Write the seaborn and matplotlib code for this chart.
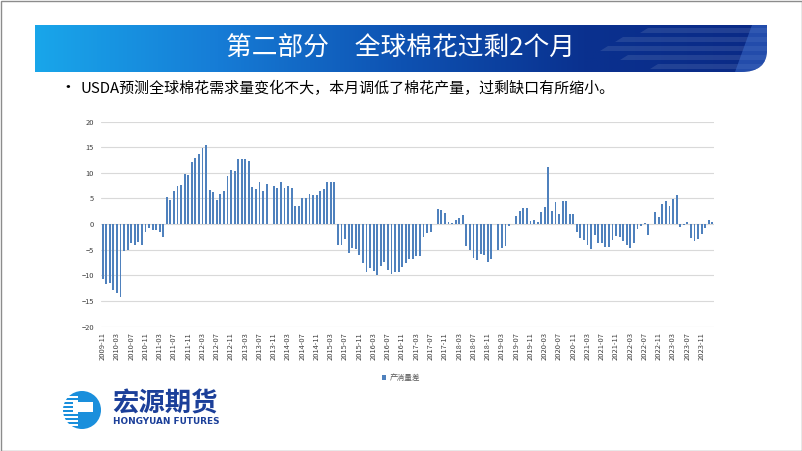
import numpy as np
import pandas as pd
import matplotlib
matplotlib.use("Agg")
import matplotlib.pyplot as plt
from matplotlib.path import Path
from matplotlib.patches import PathPatch, Rectangle, Circle, Polygon
from matplotlib.colors import LinearSegmentedColormap
import seaborn as sns

# monthly world cotton production minus consumption (USDA), 2009-11 .. 2024-02
months = pd.date_range("2009-11-01", periods=172, freq="MS").strftime("%Y-%m").tolist()
gap = [
    -10.8, -11.7, -11.6, -12.8, -13.4, -14.3, -5.2, -5.1, -3.7, -4.0, -3.6, -4.0,
    -1.6, -0.8, -1.1, -1.2, -1.6, -2.5, 5.2, 4.7, 6.4, 7.5, 7.7, 9.8,
    9.5, 12.1, 12.8, 13.7, 14.9, 15.5, 6.7, 6.3, 4.7, 5.9, 6.5, 9.4,
    10.5, 10.3, 12.7, 12.7, 12.7, 12.2, 7.3, 6.9, 8.2, 6.5, 7.9, 0.0,
    7.5, 7.0, 8.2, 7.1, 7.4, 7.1, 3.6, 3.6, 5.0, 5.0, 5.8, 5.6,
    5.7, 6.4, 6.9, 8.2, 8.2, 8.2, -4.0, -4.0, -2.9, -5.6, -4.7, -4.9,
    -6.0, -7.7, -9.4, -8.6, -9.2, -9.9, -8.2, -7.5, -8.9, -9.7, -9.4, -9.3,
    -8.4, -7.7, -6.9, -6.8, -6.2, -6.3, -2.5, -1.8, -1.6, 0.0, 2.9, 2.8,
    2.2, 0.3, 0.2, 0.8, 1.1, 1.8, -4.2, -5.0, -6.7, -7.0, -5.9, -6.1,
    -7.4, -6.9, 0.0, -5.1, -4.7, -4.2, -0.4, 0.0, 1.5, 2.5, 3.1, 3.1,
    0.5, 0.8, 0.3, 2.3, 3.3, 11.1, 2.5, 4.3, 1.9, 4.5, 4.5, 2.0,
    2.0, -1.6, -2.7, -3.1, -4.0, -4.8, -2.1, -3.7, -3.7, -4.5, -4.5, -3.1,
    -2.4, -2.6, -3.4, -4.1, -4.7, -3.8, -1.0, -0.3, 0.1, -2.1, 0.05, 2.3,
    1.4, 4.0, 4.4, 3.6, 4.9, 5.6, -0.5, -0.1, 0.3, -2.7, -3.4, -3.0,
    -1.9, -0.8, 0.7, 0.3,
]
series_name = "产消量差"
title = "第二部分　全球棉花过剩2个月"
bullet = "USDA预测全球棉花需求量变化不大，本月调低了棉花产量，过剩缺口有所缩小。"

df = pd.DataFrame({"month": months, "gap": gap})

sns.set_style("white")
plt.rcParams["font.family"] = ["Noto Sans CJK SC", "DejaVu Sans"]

W, H = 802, 451
fig = plt.figure(figsize=(W / 100, H / 100), dpi=100)
fig.patch.set_facecolor("white")

# background / decoration layer in pixel coordinates
bg = fig.add_axes([0, 0, 1, 1], zorder=0)
bg.set_xlim(0, W)
bg.set_ylim(H, 0)
bg.axis("off")

# title banner with gradient and rounded lower-right corner
x0, x1, y0, y1 = 35, 767, 25, 72
grad = LinearSegmentedColormap.from_list(
    "banner", ["#19a6ea", "#167cd6", "#0e52b2", "#0a318f", "#0a2a86"])
img = bg.imshow(np.linspace(0, 1, 256)[None, :], cmap=grad, aspect="auto",
                extent=[x0, x1, y1, y0], zorder=1)
verts = [(x0, y0), (x1, y0), (x1, y1 - 22), (x1, y1), (x1 - 26, y1), (x0, y1), (x0, y0)]
codes = [Path.MOVETO, Path.LINETO, Path.LINETO, Path.CURVE3, Path.CURVE3, Path.LINETO,
         Path.CLOSEPOLY]
clip = PathPatch(Path(verts, codes), transform=bg.transData, facecolor="none",
                 edgecolor="none")
bg.add_patch(clip)
img.set_clip_path(clip)
for ys, ye, xs in [(28, 33, 640), (37, 42, 615), (46, 51, 600), (55, 60, 620), (64, 69, 650)]:
    p = Polygon([(xs, ye), (xs + 8, ys), (x1, ys), (x1, ye)], closed=True,
                facecolor="white", alpha=0.10, edgecolor="none", zorder=2)
    bg.add_patch(p)
    p.set_clip_path(clip)
shine = Polygon([(735, y1), (752, y0), (x1, y0), (x1, y1)], closed=True,
                facecolor="#3d6fd0", alpha=0.5, edgecolor="none", zorder=2)
bg.add_patch(shine)
shine.set_clip_path(clip)
bg.text(400, 49, title, color="white", fontsize=18.5, ha="center", va="center", zorder=3)

bg.text(68, 88, "•", fontsize=12, ha="center", va="center", color="black")
bg.text(80, 88, bullet, fontsize=10.8, ha="left", va="center", color="black")

# logo
bg.add_patch(Circle((82, 410), 19, facecolor="#1a8fdc", edgecolor="none", zorder=2))
for yy in range(396, 426, 4):
    bg.add_patch(Rectangle((60, yy), 18, 1.6, facecolor="white", edgecolor="none", zorder=3))
bg.add_patch(Rectangle((73, 402), 20, 10, facecolor="white", edgecolor="none", zorder=3))
bg.text(112, 404, "宏源期货", fontsize=19, fontweight="bold", color="#1b3f99",
        ha="left", va="center")
bg.text(113, 421.5, "HONGYUAN FUTURES", fontsize=6.4, fontweight="bold", color="#1b3f99",
        ha="left", va="center", family=["DejaVu Sans"])

# slide border
bg.add_patch(Rectangle((0.5, 0.5), W - 1, H - 1, facecolor="none", edgecolor="#8c8c8c",
                       lw=1, zorder=5))

# chart
left, right, top, bottom = 100.9, 714.1, 121.5, 326.5
ax = fig.add_axes([left / W, 1 - bottom / H, (right - left) / W, (bottom - top) / H], zorder=2)
ax.patch.set_alpha(0)
sns.barplot(data=df, x="month", y="gap", color="#4F81BD", saturation=1, width=0.52,
            linewidth=0, edgecolor="none", label=series_name, ax=ax)
ax.set_xlim(-0.5, len(months) - 0.5)
ax.set_ylim(-20, 20)
ax.set_yticks(range(-20, 21, 5))
ax.yaxis.grid(True, color="#d9d9d9", lw=0.8)
ax.set_axisbelow(True)
for s in ax.spines.values():
    s.set_visible(False)
tick_pos = list(range(0, len(months), 4))
ax.set_xticks(tick_pos)
ax.set_xticklabels([months[i] for i in tick_pos], rotation=90)
ax.tick_params(axis="x", length=0, pad=4, labelsize=5.4, labelcolor="#404040")
ax.tick_params(axis="y", length=0, pad=5, labelsize=5.4, labelcolor="#404040")
ax.set_xlabel("")
ax.set_ylabel("")
handles, labels = ax.get_legend_handles_labels()
ax.legend(handles[:1], labels[:1], loc="center", bbox_to_anchor=(401 / W, 1 - 378 / H),
          bbox_transform=fig.transFigure, frameon=False, fontsize=5.5,
          handlelength=0.6, handleheight=0.6, handletextpad=0.5, labelcolor="#595959")

fig.savefig("out.png", dpi=100)
